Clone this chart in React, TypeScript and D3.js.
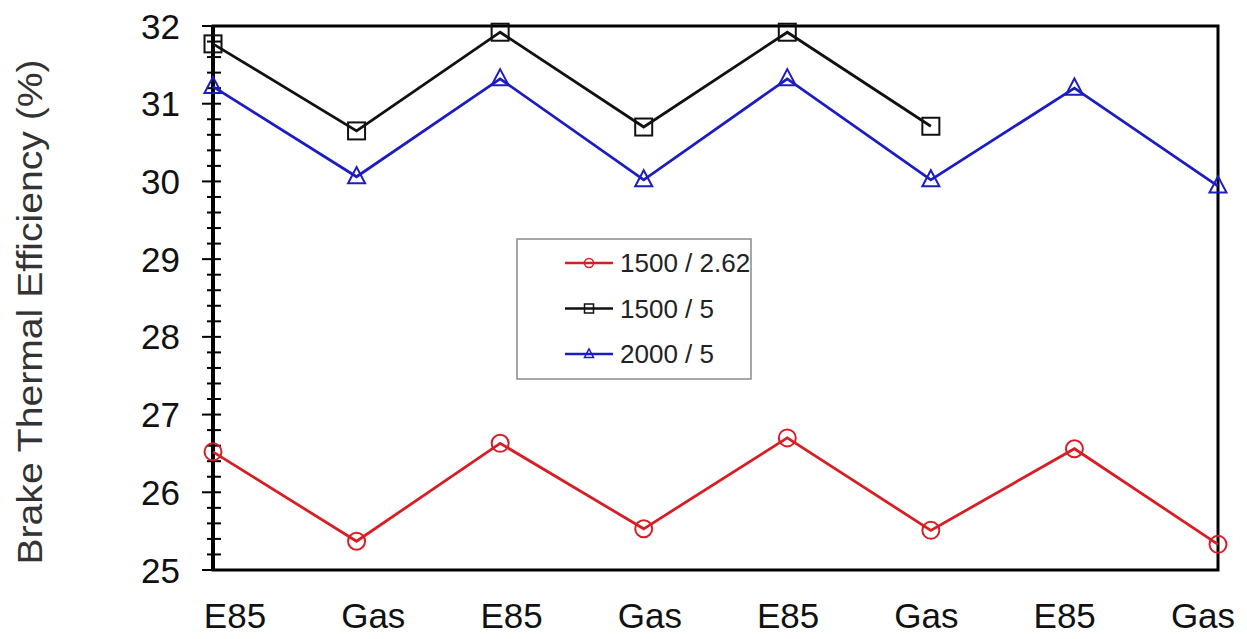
import React, { useEffect, useRef } from "react";
import * as d3 from "d3";

const categories = ["E85", "Gas", "E85", "Gas", "E85", "Gas", "E85", "Gas"];
const seriesNames = ["1500 / 2.62", "1500 / 5", "2000 / 5"];
const red = [26.52, 25.37, 26.63, 25.53, 26.7, 25.51, 26.56, 25.33];
const black = [31.77, 30.65, 31.92, 30.7, 31.92, 30.71];
const blue = [31.22, 30.06, 31.32, 30.02, 31.32, 30.02, 31.2, 29.94];
const yTicks = [25, 26, 27, 28, 29, 30, 31, 32];

const W = 1247;
const H = 639;

const App = () => {
  const ref = useRef<SVGSVGElement>(null);

  useEffect(() => {
    const svg = d3.select(ref.current);
    svg.selectAll("*").remove();

    const left = 213;
    const right = 1218;
    const top = 26;
    const bottom = 570;
    const font = "Liberation Sans, Arial, sans-serif";

    const x = d3.scaleLinear().domain([0, categories.length - 1]).range([left, right]);
    const xLab = d3.scaleLinear().domain([0, categories.length - 1]).range([235, 1203]);
    const y = d3.scaleLinear().domain([25, 32]).range([bottom, top]);

    const series = [
      { name: seriesNames[0], values: red, color: "#d81e25", shape: "circle" },
      { name: seriesNames[1], values: black, color: "#111111", shape: "square" },
      { name: seriesNames[2], values: blue, color: "#1c1cc4", shape: "triangle" },
    ];

    // frame
    svg
      .append("rect")
      .attr("x", left)
      .attr("y", top)
      .attr("width", right - left)
      .attr("height", bottom - top)
      .attr("fill", "none")
      .attr("stroke", "#000")
      .attr("stroke-width", 3);
    svg
      .append("line")
      .attr("x1", left)
      .attr("x2", left)
      .attr("y1", top)
      .attr("y2", bottom)
      .attr("stroke", "#000")
      .attr("stroke-width", 4);

    // ticks
    const minor = d3.range(25, 32.001, 0.2).filter((v) => Math.abs(v - Math.round(v)) > 0.01);
    svg
      .selectAll(".minor")
      .data(minor)
      .enter()
      .append("line")
      .attr("x1", left - 6)
      .attr("x2", left + 8)
      .attr("y1", (d) => y(d))
      .attr("y2", (d) => y(d))
      .attr("stroke", "#000")
      .attr("stroke-width", 2);
    svg
      .selectAll(".major")
      .data(yTicks)
      .enter()
      .append("line")
      .attr("x1", left - 11)
      .attr("x2", left + 8)
      .attr("y1", (d) => y(d))
      .attr("y2", (d) => y(d))
      .attr("stroke", "#000")
      .attr("stroke-width", 2);
    svg
      .selectAll(".ylab")
      .data(yTicks)
      .enter()
      .append("text")
      .attr("x", 180)
      .attr("y", (d) => y(d))
      .attr("dy", "0.36em")
      .attr("text-anchor", "end")
      .style("font-family", font)
      .style("font-size", "35px")
      .attr("fill", "#111")
      .text((d) => d);

    svg
      .selectAll(".xlab")
      .data(categories)
      .enter()
      .append("text")
      .attr("x", (_, i) => xLab(i))
      .attr("y", 628)
      .attr("text-anchor", "middle")
      .style("font-family", font)
      .style("font-size", "35px")
      .attr("fill", "#111")
      .text((d) => d);

    svg
      .append("text")
      .attr("transform", `translate(42, 312) rotate(-90)`)
      .attr("text-anchor", "middle")
      .attr("textLength", 505)
      .attr("lengthAdjust", "spacingAndGlyphs")
      .style("font-family", font)
      .style("font-size", "35px")
      .attr("fill", "#333")
      .text("Brake Thermal Efficiency (%)");

    const line = d3
      .line<number>()
      .x((_, i) => x(i))
      .y((d) => y(d));

    const drawMarker = (g: any, shape: string, cx: number, cy: number, s: number, color: string, sw: number) => {
      if (shape === "circle") {
        g.append("circle").attr("cx", cx).attr("cy", cy).attr("r", s / 2)
          .attr("fill", "none").attr("stroke", color).attr("stroke-width", sw);
      } else if (shape === "square") {
        g.append("rect").attr("x", cx - s / 2).attr("y", cy - s / 2).attr("width", s).attr("height", s)
          .attr("fill", "none").attr("stroke", color).attr("stroke-width", sw);
      } else {
        const h = s * 0.95;
        g.append("path")
          .attr("d", `M${cx},${cy - h * 0.6}L${cx + s / 2},${cy + h * 0.4}L${cx - s / 2},${cy + h * 0.4}Z`)
          .attr("fill", "none").attr("stroke", color).attr("stroke-width", sw);
      }
    };

    series.forEach((s) => {
      const g = svg.append("g");
      g.append("path")
        .attr("d", line(s.values))
        .attr("fill", "none")
        .attr("stroke", s.color)
        .attr("stroke-width", 2.8);
      s.values.forEach((v, i) => drawMarker(g, s.shape, x(i), y(v), 17, s.color, 2));
    });

    // legend
    const lg = svg.append("g");
    lg.append("rect")
      .attr("x", 517)
      .attr("y", 239)
      .attr("width", 234)
      .attr("height", 140)
      .attr("fill", "#fff")
      .attr("stroke", "#8a8a8a")
      .attr("stroke-width", 1.5);
    series.forEach((s, i) => {
      const cy = 263 + i * 45.5;
      lg.append("line")
        .attr("x1", 565)
        .attr("x2", 613)
        .attr("y1", cy)
        .attr("y2", cy)
        .attr("stroke", s.color)
        .attr("stroke-width", 2.5);
      drawMarker(lg, s.shape, 589, cy, 9, s.color, 1.5);
      lg.append("text")
        .attr("x", 620)
        .attr("y", cy)
        .attr("dy", "0.36em")
        .style("font-family", font)
        .style("font-size", "26px")
        .attr("fill", "#222")
        .text(s.name);
    });
  }, []);

  return (
    <svg
      ref={ref}
      width={W}
      height={H}
      style={{ position: "absolute", left: 0, top: 0, background: "#fff" }}
    />
  );
};

export default App;
